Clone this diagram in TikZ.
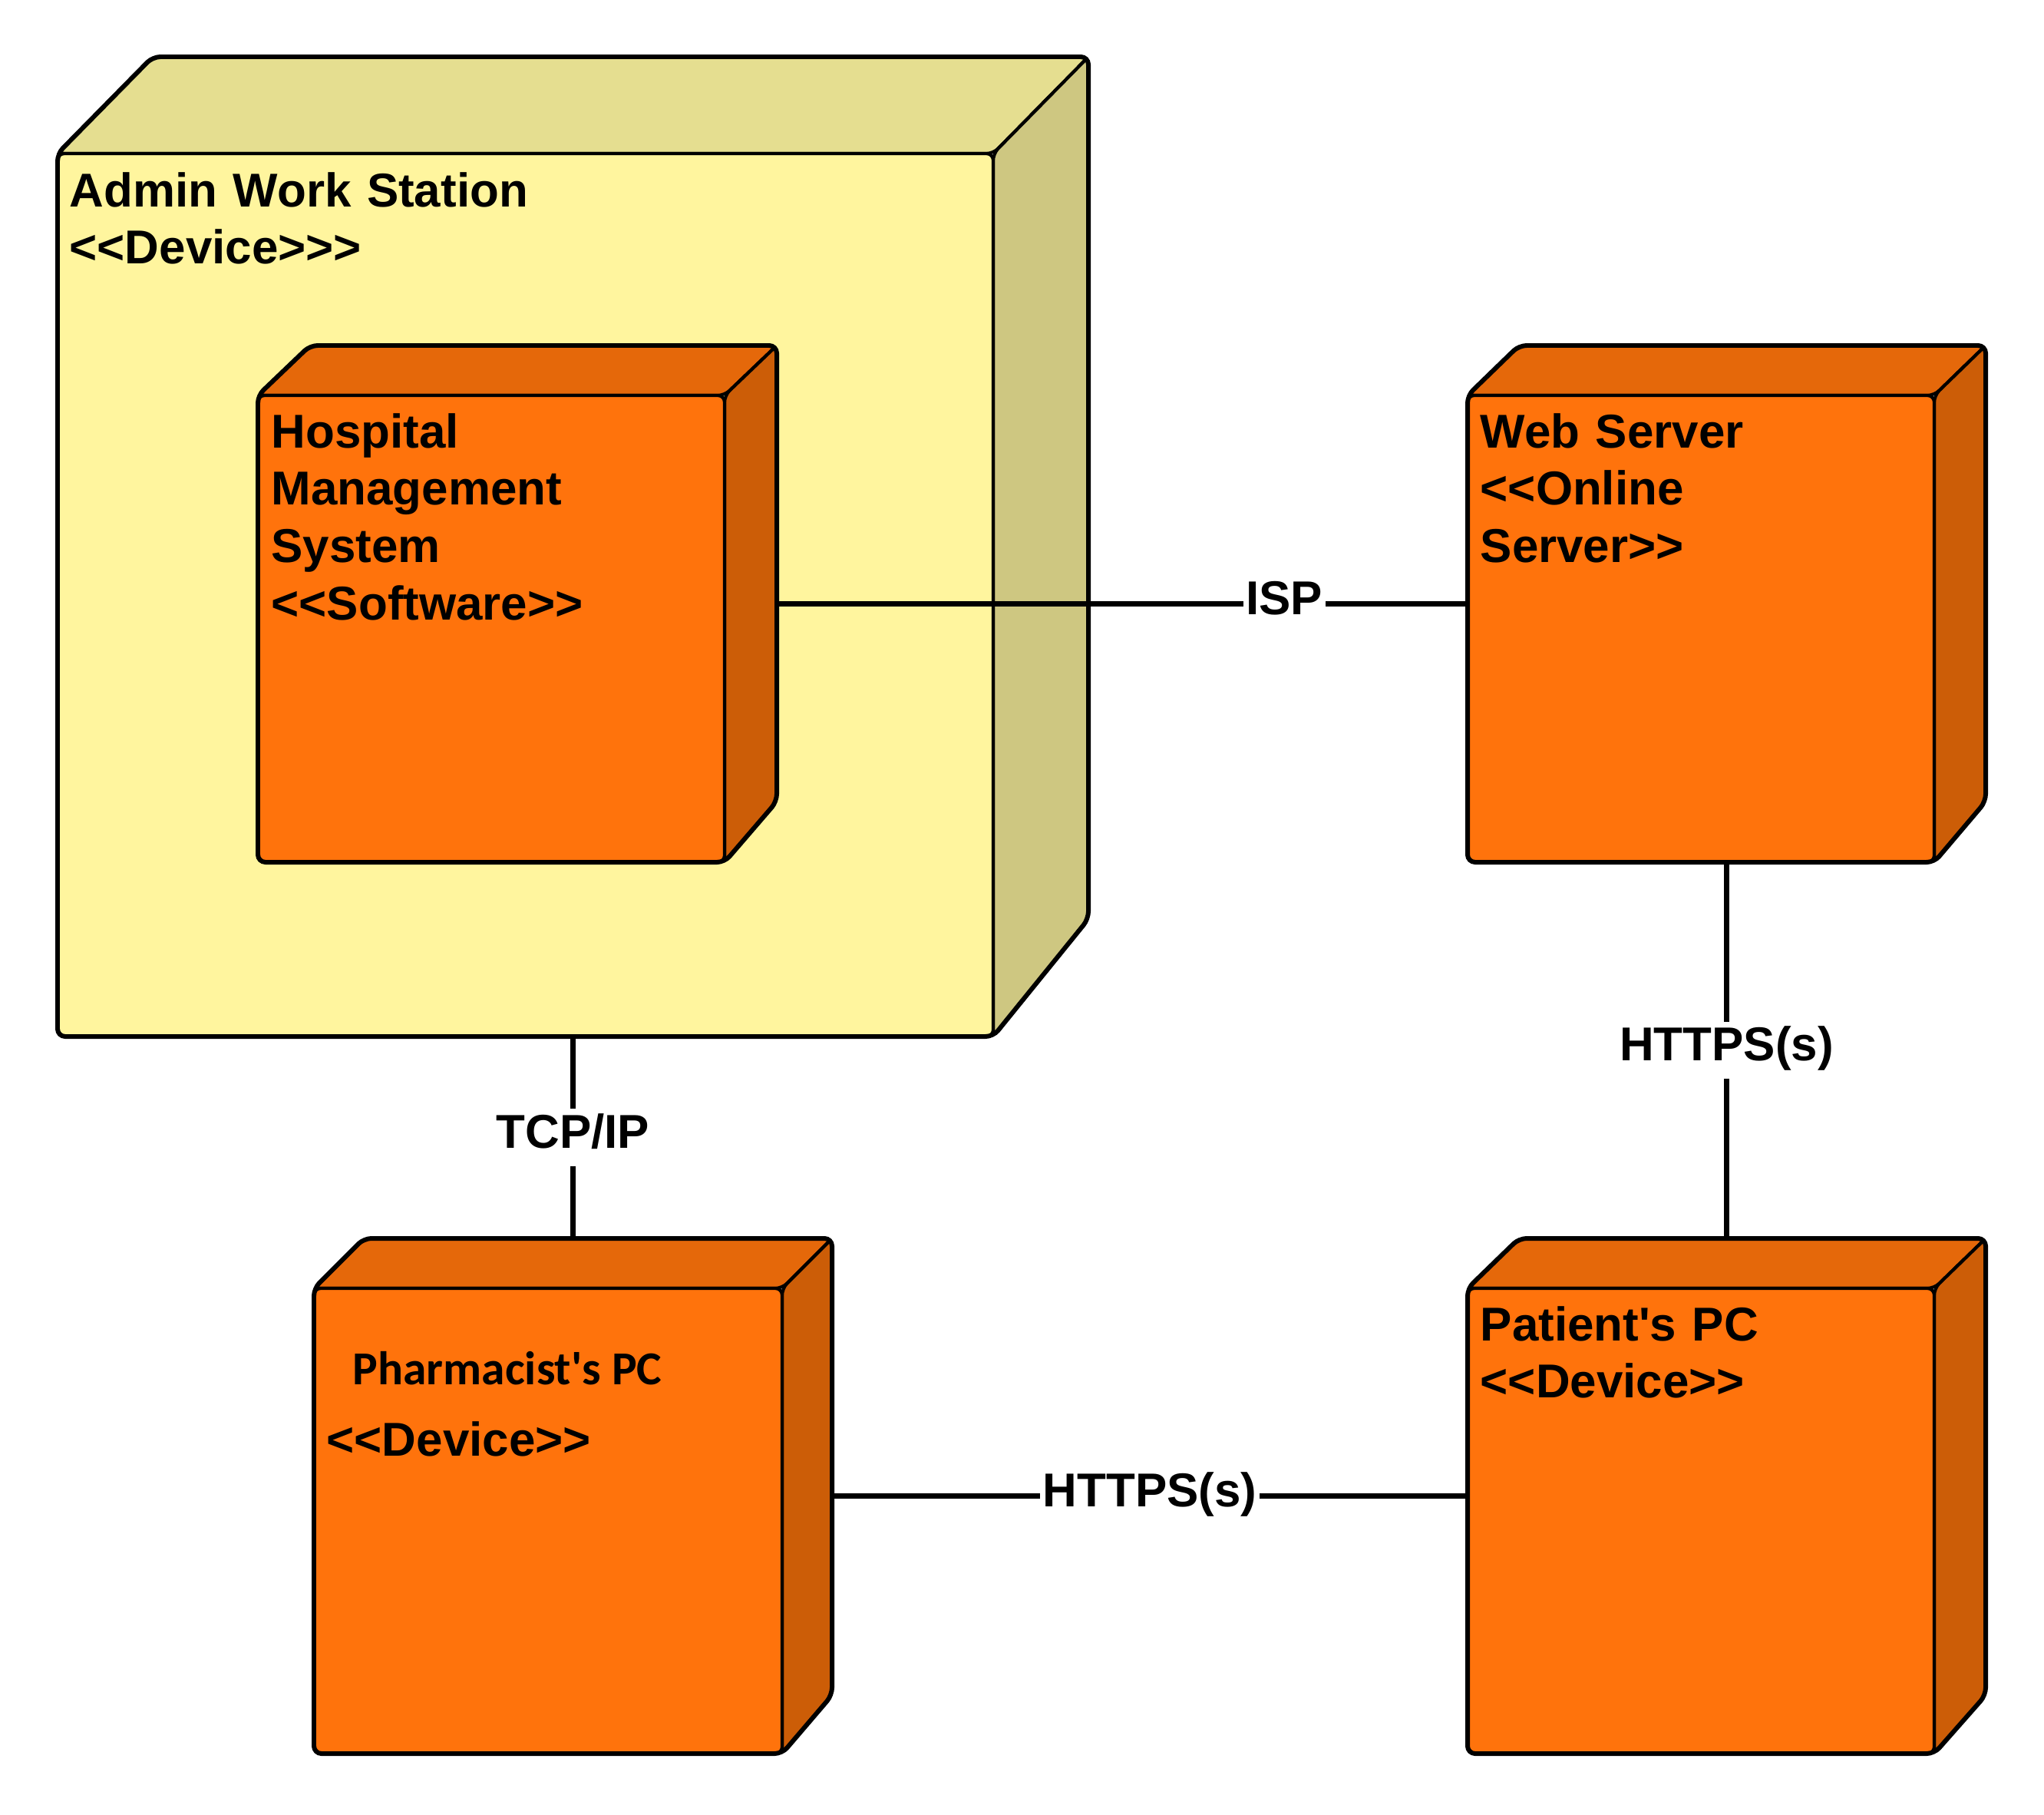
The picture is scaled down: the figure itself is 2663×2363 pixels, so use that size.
\documentclass[tikz,border=0pt]{standalone}
\usepackage{fontspec}
\usepackage{tikz}
\usetikzlibrary{fit}

\newfontfamily\lsans{Liberation Sans}
\newfontfamily\carlito{Carlito}

\definecolor{yellowfront}{HTML}{FFF59E}
\definecolor{yellowtop}{HTML}{E5DE90}
\definecolor{yellowside}{HTML}{CEC781}
\definecolor{orangefront}{HTML}{FF730C}
\definecolor{orangetop}{HTML}{E5680A}
\definecolor{orangeside}{HTML}{CC5D07}

% 3d deployment node: name, front left/top, front right/bottom, depth x, depth y, depth y at bottom, colours
\newcommand{\devicenode}[9]{%
  \filldraw[face, fill=#9top] (#2,#3) -- (#2+#6,#3-#7) -- (#4+#6,#3-#7) -- (#4,#3) -- cycle;
  \filldraw[face, fill=#9side] (#4,#3) -- (#4+#6,#3-#7) -- (#4+#6,#5-#8) -- (#4,#5) -- cycle;
  \filldraw[face, fill=#9front] (#2,#3) rectangle (#4,#5);
  \draw[outline] (#2,#3) -- (#2+#6,#3-#7) -- (#4+#6,#3-#7) -- (#4+#6,#5-#8) -- (#4,#5) -- (#2,#5) -- cycle;
  \node[fit={(#2,#3-#7) (#4+#6,#5)}, inner sep=0pt] (#1) {};
}

\begin{document}
\begin{tikzpicture}[x=0.01cm, y=-0.01cm,
    face/.style={draw=black, line width=1.2pt, rounded corners=2.5pt},
    outline/.style={draw=black, line width=1.7pt, rounded corners=2.8pt},
    title/.style={anchor=base west, align=left, text width=8cm, inner sep=0pt,
      font=\lsans\bfseries\fontsize{17.6pt}{21.3pt}\selectfont},
    link/.style={draw=black, line width=2.1pt},
    linklabel/.style={fill=white, inner xsep=1pt, inner ysep=0pt, text height=14.5pt, text depth=6.8pt,
      font=\lsans\bfseries\fontsize{17.6pt}{21.3pt}\selectfont}]
\useasboundingbox (0,0) rectangle (2663,2363);

% nodes
\devicenode{admin}{75}{200}{1294}{1350}{124}{126}{153}{yellow}
\devicenode{hms}{336}{515}{944}{1123}{68}{65}{79}{orange}
\devicenode{web}{1912}{515}{2520}{1123}{67}{65}{79}{orange}
\devicenode{pharm}{409}{1678}{1019}{2284}{65}{65}{76}{orange}
\devicenode{patient}{1912}{1678}{2520}{2284}{67}{65}{76}{orange}

\node[title] (admin-text) at (90,269) {Admin Work Station\\<<Device>>>};
\node[title] (hms-text) at (353,583) {Hospital\\Management\\System\\<<Software>>};
\node[title] (web-text) at (1928,583) {Web Server\\<<Online\\Server>>};
\node[title] (patient-text) at (1928,1746) {Patient's PC\\<<Device>>};
\node[anchor=base west, inner sep=0pt, font=\carlito\bfseries\fontsize{17.5pt}{20pt}\selectfont] (pharm-name) at (459,1803) {Pharmacist's PC};
\node[title] (pharm-type) at (425,1896) {<<Device>>};

% connectors
\draw[link] (hms) -- node[linklabel, pos=0.735] {ISP} (web);
\draw[link] (admin) -- node[linklabel] {TCP/IP} (pharm);
\draw[link] (web) -- node[linklabel] {HTTPS(s)} (patient);
\draw[link] (pharm) -- node[linklabel] {HTTPS(s)} (patient);
\end{tikzpicture}
\end{document}
